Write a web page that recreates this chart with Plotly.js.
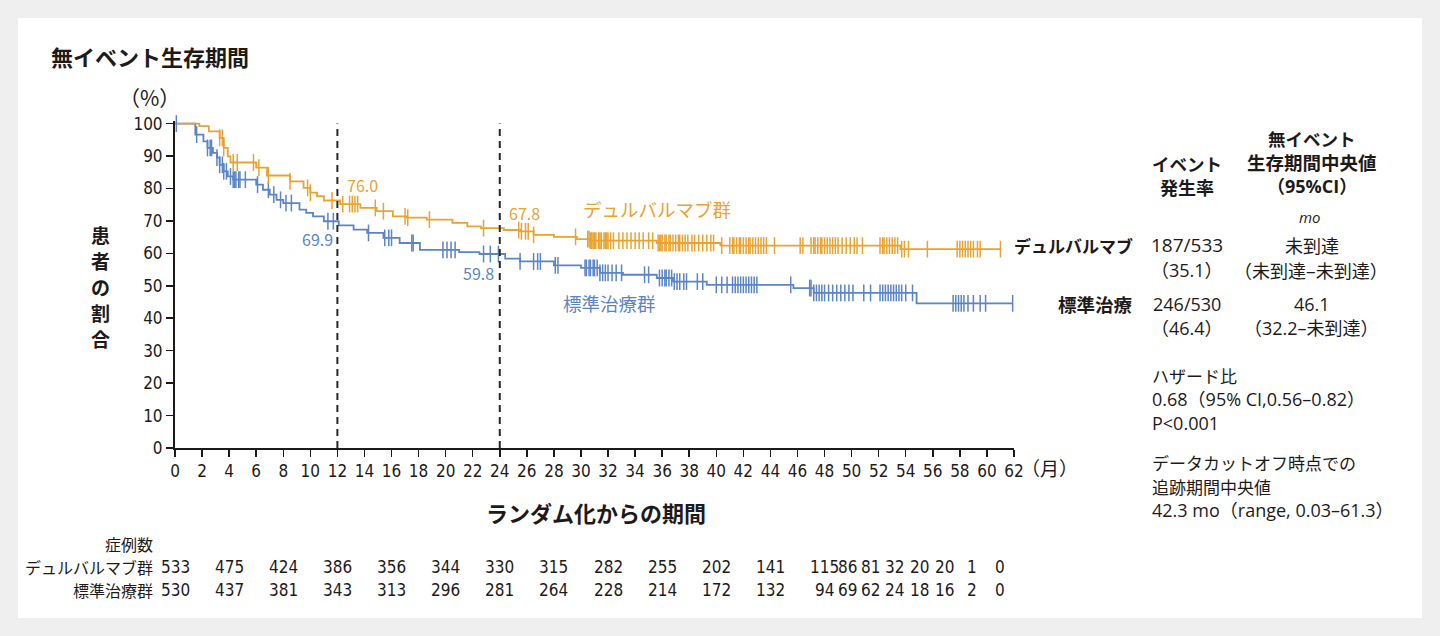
<!DOCTYPE html>
<html>
<head>
<meta charset="utf-8">
<script src="https://cdn.plot.ly/plotly-3.0.1.min.js"></script>
<style>
  html, body { margin: 0; padding: 0; background: #efefef; }
  #graph { width: 1440px; height: 636px; }
</style>
</head>
<body>
<div id="graph"></div>
<script>
// Kaplan-Meier step points (months, %)
const durvaTime = [0, 1.8, 2.5, 3.3, 3.6, 3.9, 4.1, 6.0, 6.8, 8.5, 9.5, 10.0, 10.5, 11.0, 12.2, 13.7, 14.9, 16.1, 17.1, 18.6, 20.5, 21.6, 22.6, 24.3, 25.5, 26.5, 28.0, 29.7, 30.7, 35.6, 40.3, 53.6, 61.0];
const durvaSurv = [100, 99.2, 97.6, 95.6, 92.5, 89.9, 88.0, 86.4, 84.0, 82.2, 80.2, 78.7, 77.6, 76.3, 75.2, 74.0, 73.0, 71.4, 71.0, 70.4, 69.4, 68.3, 67.8, 67.2, 66.8, 65.7, 65.1, 64.4, 63.9, 63.2, 62.4, 61.3, 61.3];

const socTime = [0, 1.5, 2.1, 2.4, 2.8, 3.1, 3.3, 3.6, 3.9, 4.3, 6.0, 6.5, 7.0, 7.5, 8.0, 9.2, 9.7, 10.2, 11.0, 12.1, 13.2, 14.2, 15.4, 16.6, 18.1, 21.0, 22.5, 24.4, 25.5, 28.0, 30.0, 31.4, 33.1, 35.6, 36.8, 39.3, 45.7, 47.2, 54.8, 61.9];
const socSurv = [100, 96.6, 94.5, 92.5, 91.0, 89.5, 87.3, 85.3, 83.7, 82.7, 81.2, 79.6, 78.1, 76.5, 75.5, 73.5, 72.5, 71.4, 69.9, 68.6, 67.3, 66.3, 64.8, 63.2, 61.1, 60.4, 59.8, 58.4, 57.5, 56.3, 55.5, 54.0, 53.4, 52.4, 51.3, 50.3, 49.3, 47.8, 44.6, 44.6];

// censoring times (months)
const durvaCensor = [3.3, 3.5, 3.6, 4.3, 4.6, 5.8, 6.2, 6.9, 8.5, 9.8, 10.0, 11.6, 12.4, 12.9, 13.1, 13.3, 13.5, 14.8, 15.4, 17.0, 17.2, 18.8, 22.8,
  25.4, 25.6, 25.9, 26.1, 26.5, 29.6, 30.5, 30.6, 30.7, 30.8, 30.9, 31.0, 31.1, 31.3, 31.4, 31.5, 31.7, 31.8, 31.9, 32.0, 32.2, 32.4,
  32.8, 33.1, 33.4, 33.7, 34.0, 34.3, 34.6, 35.0, 35.3, 35.7, 35.8, 35.9, 36.0, 36.2, 36.3, 36.5, 36.6, 36.8, 37.0, 37.2, 37.3, 37.5,
  37.7, 37.9, 38.2, 38.4, 38.7, 39.0, 39.3, 39.6, 39.8, 40.4, 41.0, 41.2, 41.3, 41.5, 41.7, 41.8, 42.0, 42.2, 42.4, 42.5, 42.7, 42.9,
  43.1, 43.3, 43.5, 43.7, 44.3, 46.2, 46.4, 47.0, 47.2, 47.3, 47.5, 47.7, 47.8, 48.0, 48.2, 48.4, 48.6, 48.8, 49.0, 49.3, 49.6, 49.9,
  50.2, 50.4, 50.8, 52.1, 52.3, 52.4, 52.6, 52.8, 53.0, 53.2, 53.4, 53.7, 53.9, 54.2, 55.6, 57.8, 58.0, 58.2, 58.4, 58.6, 58.8, 59.0,
  59.3, 59.5, 61.0];
const socCensor = [0.1, 1.6, 2.4, 2.6, 2.7, 3.1, 3.3, 3.5, 3.6, 3.8, 4.1, 4.3, 4.4, 4.5, 4.7, 4.8, 5.2, 6.1, 6.9, 7.3, 7.8, 8.2, 8.6,
  11.3, 11.7, 14.3, 15.5, 15.8, 16.0, 17.5, 17.6, 19.8, 20.1, 20.4, 20.7, 22.8, 23.3, 23.9, 25.5, 26.5, 26.8, 27.0, 28.1, 28.3,
  30.3, 30.4, 30.6, 30.7, 30.9, 31.0, 31.2, 31.4, 31.6, 31.8, 32.0, 32.3, 32.6, 33.0, 34.7, 35.0, 35.8, 36.0, 36.2, 36.3, 36.5,
  36.7, 36.9, 37.1, 37.3, 37.6, 37.8, 38.6, 39.0, 40.0, 40.4, 40.8, 41.2, 41.4, 41.6, 41.8, 42.0, 42.2, 42.4, 42.6, 42.8, 43.0,
  45.5, 46.9, 47.0, 47.2, 47.4, 47.6, 47.8, 48.0, 48.3, 48.6, 48.9, 49.2, 49.5, 49.8, 50.1, 50.9, 51.4, 52.1, 52.3, 52.5, 52.7,
  52.9, 53.1, 53.3, 53.5, 53.7, 54.0, 54.5, 57.5, 57.7, 57.9, 58.1, 58.3, 58.6, 59.0, 59.5, 59.9, 61.9];

// numbers at risk
const riskDurva = [533, 475, 424, 386, 356, 344, 330, 315, 282, 255, 202, 141, 115, 86, 81, 32, 20, 20, 1, 0];
const riskSoc = [530, 437, 381, 343, 313, 296, 281, 264, 228, 214, 172, 132, 94, 69, 62, 24, 18, 16, 2, 0];
const riskAt = [0, 4, 8, 12, 16, 20, 24, 28, 32, 36, 40, 44, 48, 49.7, 51.4, 53.2, 55.0, 56.9, 58.9, 61.0];

const xTicks = [];
for (let m = 0; m <= 62; m += 2) xTicks.push(m);
const yTicks = [0, 10, 20, 30, 40, 50, 60, 70, 80, 90, 100];

const ORANGE = "#e8a332";
const BLUE = "#5b85c5";
const INK = "#1e1a1a";
const JP = "'Noto Sans CJK JP', 'Noto Sans', sans-serif";
const LATIN = "'Open Sans', 'Noto Sans CJK JP', sans-serif";
const NARROW = "'Liberation Sans Narrow', 'DejaVu Sans Condensed', 'Roboto', sans-serif";

function survAt(t, times, surv) {
  let s = surv[0];
  for (let i = 0; i < times.length; i++) {
    if (times[i] <= t) s = surv[i];
    else break;
  }
  return s;
}

// plot area in pixels
const L = 175, R = 1014, T = 121, B = 448;
const X = (px) => (px - L) / (R - L);
const Y = (py) => (B - py) / (B - T);

function ann(text, px, py, opts) {
  opts = opts || {};
  return {
    text: text,
    xref: "paper", yref: "paper",
    x: X(px), y: Y(py),
    xanchor: opts.xa || "center",
    yanchor: "middle",
    showarrow: false,
    borderpad: 0,
    font: {
      family: opts.family || JP,
      size: opts.size || 17,
      color: opts.color || INK,
      weight: opts.bold ? 700 : 400,
      style: opts.italic ? "italic" : "normal",
    },
  };
}

const traces = [
  {
    type: "scatter", mode: "lines",
    x: socTime, y: socSurv,
    line: { shape: "hv", color: BLUE, width: 1.8 },
    hoverinfo: "skip",
  },
  {
    type: "scatter", mode: "lines",
    x: durvaTime, y: durvaSurv,
    line: { shape: "hv", color: ORANGE, width: 1.8 },
    hoverinfo: "skip",
  },
  {
    type: "scatter", mode: "markers",
    x: socCensor, y: socCensor.map((t) => survAt(t, socTime, socSurv)),
    marker: { symbol: "line-ns", size: 12, line: { color: BLUE, width: 1.5 } },
    cliponaxis: false, hoverinfo: "skip",
  },
  {
    type: "scatter", mode: "markers",
    x: durvaCensor, y: durvaCensor.map((t) => survAt(t, durvaTime, durvaSurv)),
    marker: { symbol: "line-ns", size: 12, line: { color: ORANGE, width: 1.5 } },
    cliponaxis: false, hoverinfo: "skip",
  },
];

const annotations = [
  ann("無イベント生存期間", 50, 56, { xa: "left", size: 22, bold: true }),
  ann("（%）", 149, 97, { size: 21 }),
  ann("患", 100, 234, { size: 19, bold: true }),
  ann("者", 100, 260, { size: 19, bold: true }),
  ann("の", 100, 286, { size: 19, bold: true }),
  ann("割", 100, 312, { size: 19, bold: true }),
  ann("合", 100, 338, { size: 19, bold: true }),
  ann("ランダム化からの期間", 596, 512, { size: 22, bold: true }),
  ann("（月）", 1020, 467, { xa: "left", size: 19 }),

  ann("76.0", 346, 185, { xa: "left", size: 16, color: ORANGE }),
  ann("69.9", 334, 239, { xa: "right", size: 16, color: BLUE }),
  ann("67.8", 508, 213, { xa: "left", size: 16, color: ORANGE }),
  ann("59.8", 495, 273, { xa: "right", size: 16, color: BLUE }),
  ann("デュルバルマブ群", 582, 209, { xa: "left", size: 18.5, color: ORANGE }),
  ann("標準治療群", 562, 303, { xa: "left", size: 18.5, color: BLUE }),

  ann("イベント", 1187, 163, { size: 17.5, bold: true }),
  ann("発生率", 1187, 187, { size: 18, bold: true }),
  ann("無イベント", 1312, 138, { size: 17.5, bold: true }),
  ann("生存期間中央値", 1312, 162, { size: 18.5, bold: true }),
  ann("（95%CI）", 1312, 186, { size: 18, bold: true, family: LATIN }),
  ann("mo", 1310, 217, { size: 15, italic: true, family: LATIN }),

  ann("デュルバルマブ", 1134, 245, { xa: "right", size: 17, bold: true }),
  ann("187/533", 1187, 245, { size: 19, family: LATIN }),
  ann("（35.1）", 1187, 270, { size: 18, family: LATIN }),
  ann("未到達", 1312, 245, { size: 18 }),
  ann("（未到達–未到達）", 1311, 270, { size: 18 }),

  ann("標準治療", 1134, 304, { xa: "right", size: 18.5, bold: true }),
  ann("246/530", 1187, 304, { size: 18, family: LATIN }),
  ann("（46.4）", 1187, 328, { size: 18, family: LATIN }),
  ann("46.1", 1312, 304, { size: 18, family: LATIN }),
  ann("（32.2–未到達）", 1311, 328, { size: 18, family: LATIN }),

  ann("ハザード比", 1151, 375, { xa: "left", size: 17 }),
  ann("0.68（95% CI,0.56–0.82）", 1151, 399, { xa: "left", size: 18, family: LATIN }),
  ann("P<0.001", 1151, 423, { xa: "left", size: 18, family: LATIN }),
  ann("データカットオフ時点での", 1151, 462, { xa: "left", size: 17 }),
  ann("追跡期間中央値", 1151, 486, { xa: "left", size: 17 }),
  ann("42.3 mo（range, 0.03–61.3）", 1151, 510, { xa: "left", size: 18, family: LATIN }),

  ann("症例数", 154, 544, { xa: "right", size: 16 }),
  ann("デュルバルマブ群", 154, 567, { xa: "right", size: 16 }),
  ann("標準治療群", 154, 590, { xa: "right", size: 16 }),
];

riskAt.forEach((m, i) => {
  [[riskDurva, 567], [riskSoc, 590]].forEach(([row, py]) => {
    annotations.push({
      text: String(row[i]),
      xref: "x", yref: "paper",
      x: m, y: Y(py),
      xanchor: "center", yanchor: "middle",
      showarrow: false,
      borderpad: 0,
      font: { family: NARROW, size: 17, color: INK },
    });
  });
});

const shapes = [
  {
    type: "rect", xref: "paper", yref: "paper", layer: "below",
    x0: X(18), x1: X(1422), y0: Y(618), y1: Y(18),
    fillcolor: "#ffffff", line: { width: 0 },
  },
  {
    type: "line", xref: "x", yref: "y", x0: 12, x1: 12, y0: 0, y1: 100,
    line: { color: "#2a2626", width: 2, dash: "7px,5px" },
  },
  {
    type: "line", xref: "x", yref: "y", x0: 24, x1: 24, y0: 0, y1: 100,
    line: { color: "#2a2626", width: 2, dash: "7px,5px" },
  },
];

const layout = {
  width: 1440,
  height: 636,
  margin: { l: L, r: 1440 - R, t: T, b: 636 - B, pad: 0 },
  paper_bgcolor: "#efefef",
  plot_bgcolor: "#ffffff",
  showlegend: false,
  xaxis: {
    range: [0, 62],
    tickvals: xTicks,
    ticks: "outside", ticklen: 7, tickwidth: 1.5, tickcolor: INK,
    showline: true, linecolor: INK, linewidth: 2,
    showgrid: false, zeroline: false,
    tickfont: { family: NARROW, size: 17, color: INK },
    fixedrange: true,
  },
  yaxis: {
    range: [0, 100.8],
    tickvals: yTicks,
    ticks: "outside", ticklen: 7, tickwidth: 1.5, tickcolor: INK,
    showline: true, linecolor: INK, linewidth: 2,
    showgrid: false, zeroline: false,
    tickfont: { family: NARROW, size: 17, color: INK },
    fixedrange: true,
  },
  annotations: annotations,
  shapes: shapes,
};

Plotly.newPlot("graph", traces, layout, { displayModeBar: false, staticPlot: true });
</script>
</body>
</html>
